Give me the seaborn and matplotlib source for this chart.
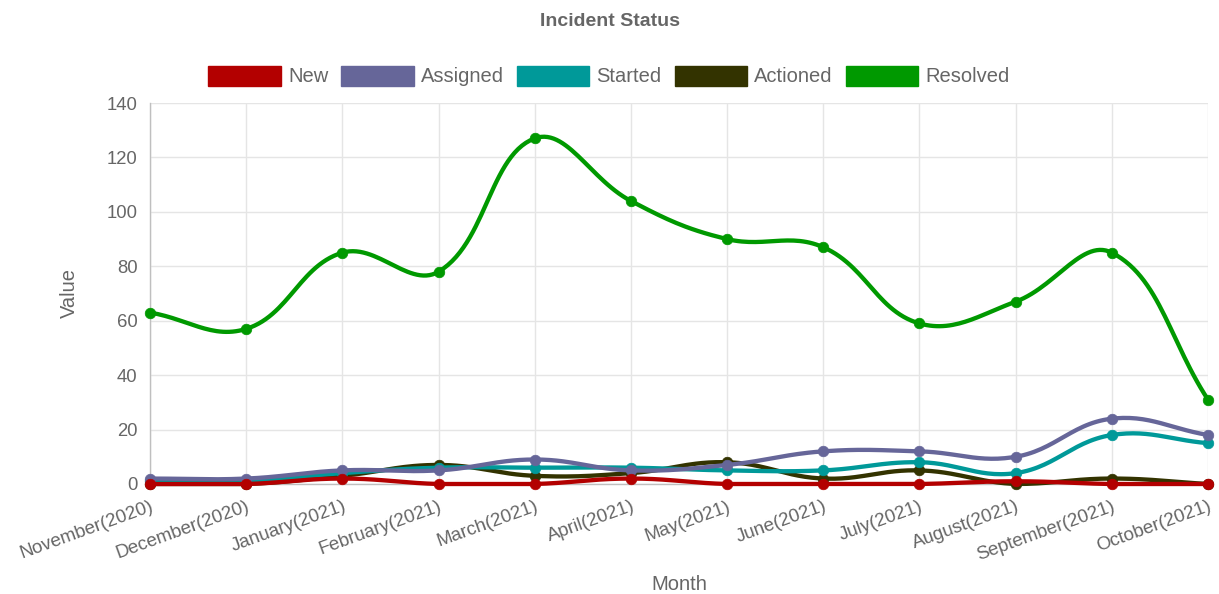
import numpy as np
import pandas as pd
import seaborn as sns
import matplotlib
matplotlib.use("Agg")
import matplotlib.pyplot as plt
from matplotlib.patches import Patch

months = ["November(2020)", "December(2020)", "January(2021)", "February(2021)",
          "March(2021)", "April(2021)", "May(2021)", "June(2021)", "July(2021)",
          "August(2021)", "September(2021)", "October(2021)"]
new = [0, 0, 2, 0, 0, 2, 0, 0, 0, 1, 0, 0]
assigned = [2, 2, 5, 5, 9, 5, 7, 12, 12, 10, 24, 18]
started = [1, 1, 4, 6, 6, 6, 5, 5, 8, 4, 18, 15]
actioned = [0, 0, 3, 7, 3, 4, 8, 2, 5, 0, 2, 0]
resolved = [63, 57, 85, 78, 127, 104, 90, 87, 59, 67, 85, 31]

series_names = ["New", "Assigned", "Started", "Actioned", "Resolved"]
series_vals = [new, assigned, started, actioned, resolved]
colors = ["#b30000", "#666699", "#009999", "#333300", "#009900"]

sns.set_style("white")
plt.rcParams["font.family"] = ["Liberation Sans", "DejaVu Sans"]

fig = plt.figure(figsize=(12.19, 5.94), dpi=100)
ax = fig.add_axes([150 / 1219, 1 - 484 / 594, 1058 / 1219, 381 / 594])
x = np.arange(len(months))
ax.set_xlim(0, len(months) - 1)
ax.set_ylim(0, 140)
fig.canvas.draw()


def spline(xs, ys, tension=0.4):
    """Cubic bezier curve through the points, built in display space."""
    pts = ax.transData.transform(np.column_stack([xs, ys]))
    bb = ax.bbox
    n = len(pts)
    c1 = np.zeros_like(pts)
    c2 = np.zeros_like(pts)
    for i in range(n):
        prev = pts[max(i - 1, 0)]
        cur = pts[i]
        nxt = pts[min(i + 1, n - 1)]
        d01 = np.hypot(*(cur - prev))
        d12 = np.hypot(*(nxt - cur))
        tot = d01 + d12
        s01 = d01 / tot if tot else 0
        s12 = d12 / tot if tot else 0
        c1[i] = cur - tension * s01 * (nxt - prev)
        c2[i] = cur + tension * s12 * (nxt - prev)
    for c in (c1, c2):
        c[:, 0] = np.clip(c[:, 0], bb.x0, bb.x1)
        c[:, 1] = np.clip(c[:, 1], bb.y0, bb.y1)
    t = np.linspace(0, 1, 30)[:, None]
    out = [pts[:1]]
    for i in range(n - 1):
        p0, p1, p2, p3 = pts[i], c2[i], c1[i + 1], pts[i + 1]
        seg = ((1 - t) ** 3) * p0 + 3 * ((1 - t) ** 2) * t * p1 + 3 * (1 - t) * t ** 2 * p2 + t ** 3 * p3
        out.append(seg[1:])
    curve = np.vstack(out)
    return ax.transData.inverted().transform(curve)


for k, (name, vals, col) in enumerate(zip(series_names, series_vals, colors)):
    z = 10 - k
    cv = spline(x, vals)
    ax.plot(cv[:, 0], cv[:, 1], color=col, lw=3.1, zorder=z, solid_capstyle="round",
            clip_on=False)
    df = pd.DataFrame({"month": x, "value": vals})
    sns.scatterplot(data=df, x="month", y="value", color=col, s=58, edgecolor=col,
                    linewidth=0.5, zorder=z + 0.5, ax=ax, clip_on=False, legend=False)

# grid and axes styling
ax.set_xticks(x)
ax.set_xticklabels(months, rotation=20, ha="right", rotation_mode="anchor")
ax.set_yticks(np.arange(0, 141, 20))
ax.grid(True, color="#e5e5e5", lw=1, zorder=0)
ax.set_axisbelow(True)
for side in ["top", "right"]:
    ax.spines[side].set_visible(False)
for side in ["left", "bottom"]:
    ax.spines[side].set_color("#bfbfbf")
    ax.spines[side].set_linewidth(1)
ax.tick_params(axis="y", length=7, color="#e5e5e5", labelcolor="#666666",
               labelsize=13.3, pad=2)
ax.tick_params(axis="x", length=7, color="#e5e5e5", labelcolor="#666666",
               labelsize=13.5, pad=3)
ax.set_xlabel("Month", color="#666666", fontsize=14.5, labelpad=8)
ax.set_ylabel("Value", color="#666666", fontsize=14.5, labelpad=20)

fig.text(610 / 1219, 1 - 21 / 594, "Incident Status", ha="center", va="center",
         fontsize=14, fontweight="bold", color="#666666")

handles = [Patch(facecolor=c, edgecolor=c, label=n) for n, c in zip(series_names, colors)]
fig.legend(handles=handles, loc="center", bbox_to_anchor=(609 / 1219, 1 - 76 / 594),
           ncol=5, frameon=False, handlelength=3.6, handleheight=1.15,
           handletextpad=0.35, columnspacing=0.65, fontsize=14.5,
           labelcolor="#666666")

fig.savefig("out.png", dpi=100)
